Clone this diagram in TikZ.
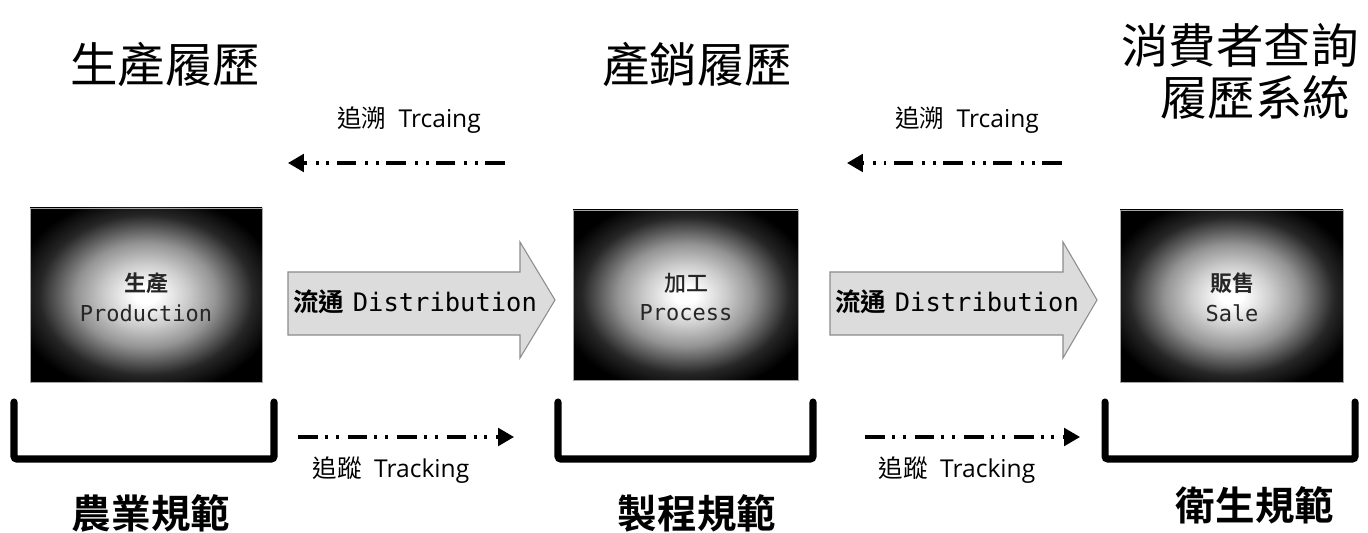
\documentclass[tikz,border=0pt]{standalone}
\usepackage{fontspec}
\setmainfont{Noto Sans CJK TC}
\newfontfamily\cjk{Noto Sans CJK TC}
\newfontfamily\cjkm{Noto Sans CJK TC Medium}
\newfontfamily\cjkb{Noto Sans CJK TC Bold}
\newfontfamily\mono{DejaVu Sans Mono}
\newfontfamily\lat{Open Sans}
\usetikzlibrary{arrows.meta}
\pgfdeclareradialshading{glow}{\pgfpoint{0bp}{0bp}}{color(0bp)=(white); color(2.5bp)=(white); color(9bp)=(white!80!black); color(15bp)=(white!58!black); color(23bp)=(white!15!black); color(29bp)=(black); color(50bp)=(black)}
\definecolor{arrowfill}{HTML}{DCDCDC}
\definecolor{arrowline}{HTML}{8C8C8C}
\tikzset{
  x=0.02cm, y=-0.02cm,
  title/.style={font=\cjk\fontsize{27}{30}\selectfont, inner sep=0pt, align=center},
  small/.style={font=\fontsize{14}{16}\selectfont, inner sep=0pt},
  norm/.style={font=\cjkb\fontsize{22.5}{26}\selectfont, inner sep=0pt},
  boxtxt/.style={font=\fontsize{12.5}{16}\selectfont, inner sep=0pt, align=center, text=black!85},
  glowbox/.style={shading=glow, draw=gray!70, line width=0.5pt},
  ddd/.style={line width=1.8pt, dash pattern=on 11.3pt off 4pt on 1.7pt off 4.5pt on 1.7pt off 5pt},
  ddtip/.style={-{Triangle[length=9pt,width=10pt]}},
  bigarrow/.style={fill=arrowfill, draw=arrowline, line width=0.6pt},
  disttxt/.style={font=\fontsize{14.5}{16}\selectfont, inner sep=0pt},
  bracket/.style={line width=4pt, line cap=round, rounded corners=1.5pt}
}
\begin{document}
\begin{tikzpicture}
\useasboundingbox (0,0) rectangle (1368,533);
% titles
\node[title] (t1) at (165,65) {生產履歷};
\node[title] (t2) at (697,65) {產銷履歷};
\node[title] (t3a) at (1240,45) {消費者查詢};
\node[title] (t3b) at (1255,97) {履歷系統};
% tracing labels and arrows
\node[small] (tr1) at (409,120) {{\cjk 追溯}\hspace{7pt}{\lat Trcaing}};
\node[small] (tr2) at (967,120) {{\cjk 追溯}\hspace{7pt}{\lat Trcaing}};
\coordinate (tra1) at (505,163); \coordinate (trb1) at (288,163);
\coordinate (tra2) at (1062,163); \coordinate (trb2) at (847,163);
\draw[ddd,ddtip] (tra1) -- (trb1);
\draw[ddd,ddtip] (tra2) -- (trb2);
% boxes
\shade[glowbox] (30,208) rectangle (262,382);
\node[boxtxt] (b1) at (146,297) {{\cjkb 生產}\\[1pt]{\mono Production}};
\shade[glowbox] (573,210) rectangle (798,380);
\node[boxtxt] (b2) at (686,297) {{\cjkm 加工}\\[1pt]{\mono Process}};
\shade[glowbox] (1120,210) rectangle (1343,382);
\node[boxtxt] (b3) at (1232,297) {{\cjkb 販售}\\[1pt]{\mono Sale}};
% big arrows
\draw[bigarrow] (288,272) -- (520,272) -- (520,242) -- (555,300) -- (520,358) -- (520,335) -- (288,335) -- cycle;
\node[disttxt] (d1) at (415,302) {{\cjkb 流通}\hspace{5pt}{\mono Distribution}};
\draw[bigarrow] (830,272) -- (1063,272) -- (1063,242) -- (1097,300) -- (1063,358) -- (1063,335) -- (830,335) -- cycle;
\node[disttxt] (d2) at (957,302) {{\cjkb 流通}\hspace{5pt}{\mono Distribution}};
% brackets
\draw[bracket] (14,402) -- (14,459) -- (274,459) -- (274,402);
\draw[bracket] (558,402) -- (558,459) -- (813,459) -- (813,402);
\draw[bracket] (1105,402) -- (1105,459) -- (1355,459) -- (1355,402);
% tracking arrows and labels
\coordinate (tka1) at (298,437); \coordinate (tkb1) at (514,437);
\coordinate (tka2) at (865,437); \coordinate (tkb2) at (1080,437);
\draw[ddd,ddtip] (tka1) -- (tkb1);
\draw[ddd,ddtip] (tka2) -- (tkb2);
\node[small] (tk1) at (391,470) {{\cjk 追蹤}\hspace{7pt}{\lat Tracking}};
\node[small] (tk2) at (957,470) {{\cjk 追蹤}\hspace{7pt}{\lat Tracking}};
% norms
\node[norm] (n1) at (151,513) {農業規範};
\node[norm] (n2) at (697,513) {製程規範};
\node[norm] (n3) at (1255,505) {衛生規範};
\end{tikzpicture}
\end{document}
